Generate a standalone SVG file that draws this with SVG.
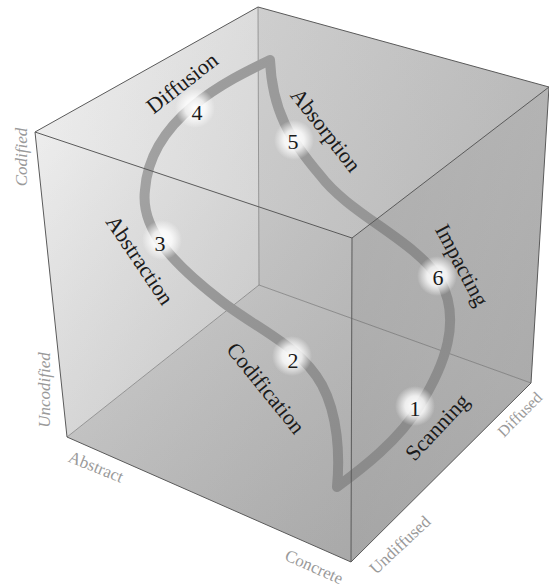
<svg xmlns="http://www.w3.org/2000/svg" width="549" height="588" viewBox="0 0 549 588">
<defs>
<style>
.lbl{font-family:"Liberation Serif","DejaVu Serif",serif;font-size:22px;fill:#1a1a1a;text-anchor:middle;dominant-baseline:central}
.num{font-family:"Liberation Serif","DejaVu Serif",serif;font-size:22px;fill:#1a1a1a;text-anchor:middle;dominant-baseline:central}
.axis{font-family:"Liberation Serif","DejaVu Serif",serif;font-size:17px;fill:#9a9a9a;text-anchor:middle;dominant-baseline:central}
.edge{fill:none;stroke:#5a5a5a;stroke-width:1}
.hid{fill:none;stroke:#707070;stroke-width:0.8}
</style>
<linearGradient id="gLeftWall" x1="0" y1="0" x2="1" y2="1">
<stop offset="0" stop-color="#eaeaea"/><stop offset="1" stop-color="#cdcdcd"/>
</linearGradient>
<linearGradient id="gBackWall" x1="0" y1="0" x2="1" y2="1">
<stop offset="0" stop-color="#cbcbcb"/><stop offset="1" stop-color="#b0b0b0"/>
</linearGradient>
<linearGradient id="gFloor" x1="0" y1="0" x2="1" y2="1">
<stop offset="0" stop-color="#c8c8c8"/><stop offset="1" stop-color="#aaaaaa"/>
</linearGradient>
<linearGradient id="gFront" x1="0" y1="0" x2="1" y2="1">
<stop offset="0" stop-color="#ffffff" stop-opacity="0.3"/><stop offset="1" stop-color="#808080" stop-opacity="0.15"/>
</linearGradient>
<linearGradient id="gRight" x1="0" y1="0" x2="1" y2="0">
<stop offset="0" stop-color="#8a8a8a" stop-opacity="0.28"/><stop offset="1" stop-color="#9a9a9a" stop-opacity="0.22"/>
</linearGradient>
<linearGradient id="gTop" x1="0" y1="0" x2="1" y2="0">
<stop offset="0" stop-color="#ffffff" stop-opacity="0.25"/><stop offset="1" stop-color="#b0b0b0" stop-opacity="0.12"/>
</linearGradient>
<radialGradient id="glow">
<stop offset="0" stop-color="#ffffff" stop-opacity="1"/>
<stop offset="0.5" stop-color="#ffffff" stop-opacity="0.8"/>
<stop offset="1" stop-color="#ffffff" stop-opacity="0"/>
</radialGradient>
</defs>

<g id="cube-back">
<polygon points="35,132 258,7 259,285 67,437" fill="url(#gLeftWall)"/>
<polygon points="258,7 549,87 531,383 259,285" fill="url(#gBackWall)"/>
<polygon points="67,437 259,285 531,383 351,562" fill="url(#gFloor)"/>
<polyline class="hid" points="258,7 259,285"/>
<polyline class="hid" points="67,437 259,285 531,383"/>
</g>

<g id="cycle-path">
<path d="M270,60 C228,80 150,118 145,190 C140,230 175,265 220,300 C255,328 300,345 322,385 C338,415 340,455 337,487 C360,470 400,440 420,405 C445,365 462,320 440,280 C415,240 350,215 320,175 C290,140 272,110 270,60 Z" fill="none" stroke="#8b8b8b" stroke-width="10" stroke-linejoin="round"/>
</g>

<g id="cube-front">
<polygon points="35,132 352,238 351,562 67,437" fill="url(#gFront)"/>
<polygon points="352,238 549,87 531,383 351,562" fill="url(#gRight)"/>
<polygon points="35,132 258,7 549,87 352,238" fill="url(#gTop)"/>
<polygon class="edge" points="35,132 258,7 549,87 531,383 351,562 67,437"/>
<polyline class="edge" points="35,132 352,238 549,87"/>
<polyline class="edge" points="352,238 351,562"/>
</g>

<g id="glows">
<circle cx="415" cy="406" r="20" fill="url(#glow)"/>
<circle cx="292" cy="356" r="20" fill="url(#glow)"/>
<circle cx="162" cy="240" r="20" fill="url(#glow)"/>
<circle cx="195" cy="108" r="20" fill="url(#glow)"/>
<circle cx="294" cy="140" r="20" fill="url(#glow)"/>
<circle cx="437" cy="276" r="20" fill="url(#glow)"/>
</g>

<g id="step-1"><text class="num" x="415" y="408">1</text><text class="lbl" transform="translate(437,427) rotate(-47)">Scanning</text></g>
<g id="step-2"><text class="num" x="293" y="360">2</text><text class="lbl" transform="translate(266,388) rotate(51)">Codification</text></g>
<g id="step-3"><text class="num" x="160" y="243">3</text><text class="lbl" transform="translate(140,260) rotate(56)">Abstraction</text></g>
<g id="step-4"><text class="num" x="197" y="112">4</text><text class="lbl" transform="translate(182,83) rotate(-38)">Diffusion</text></g>
<g id="step-5"><text class="num" x="293" y="141">5</text><text class="lbl" transform="translate(326,130) rotate(52)">Absorption</text></g>
<g id="step-6"><text class="num" x="438" y="277">6</text><text class="lbl" transform="translate(462,265) rotate(62)">Impacting</text></g>

<g id="axis-labels">
<text class="axis" font-style="italic" transform="translate(21,157) rotate(-90)">Codified</text>
<text class="axis" font-style="italic" transform="translate(44,390) rotate(-90)">Uncodified</text>
<text class="axis" transform="translate(96,467) rotate(22)">Abstract</text>
<text class="axis" transform="translate(314,567) rotate(24)">Concrete</text>
<text class="axis" transform="translate(400,545) rotate(-43)">Undiffused</text>
<text class="axis" style="text-anchor:start;font-size:16px" transform="translate(500,434) rotate(-45)">Diffused</text>
</g>
</svg>
